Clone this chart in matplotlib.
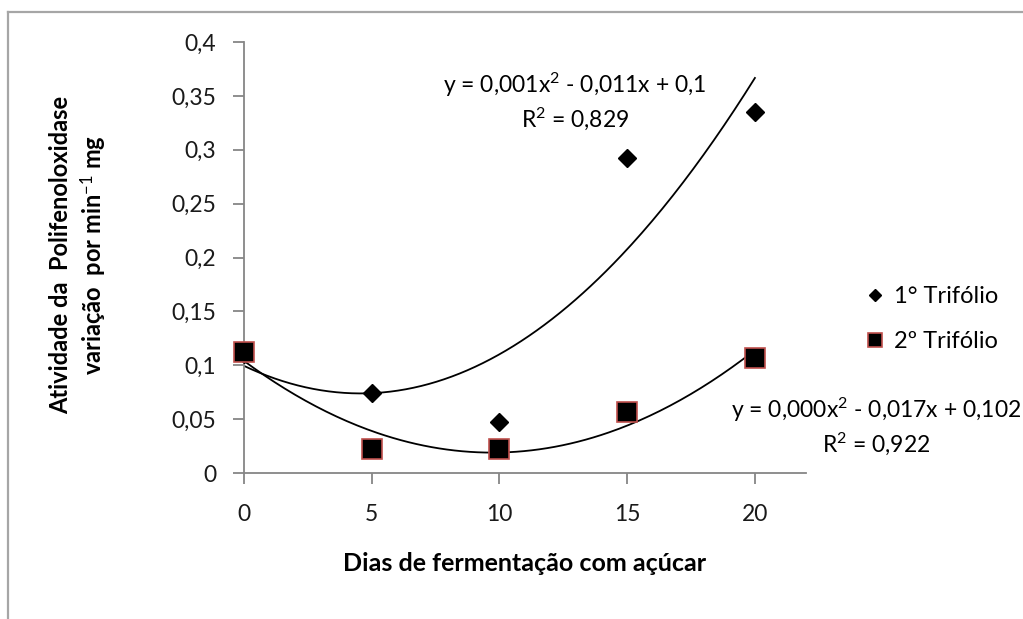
import matplotlib.pyplot as plt
import numpy as np

plt.rcParams['font.family'] = ['Lato', 'DejaVu Sans']
plt.rcParams['mathtext.fontset'] = 'custom'
plt.rcParams['mathtext.rm'] = 'Lato'
plt.rcParams['mathtext.it'] = 'Lato:italic'
plt.rcParams['mathtext.bf'] = 'Lato:bold'

dias = [0, 5, 10, 15, 20]
trifolio_1 = [0.110, 0.074, 0.047, 0.292, 0.335]
trifolio_2 = [0.112, 0.022, 0.022, 0.057, 0.107]

eq_1 = "y = 0,001x$^2$ - 0,011x + 0,1\nR$^2$ = 0,829"
eq_2 = "y = 0,000x$^2$ - 0,017x + 0,102\nR$^2$ = 0,922"

y_ticks = [0, 0.05, 0.1, 0.15, 0.2, 0.25, 0.3, 0.35, 0.4]
y_tick_labels = ["0", "0,05", "0,1", "0,15", "0,2", "0,25", "0,3", "0,35", "0,4"]
x_ticks = [0, 5, 10, 15, 20]

W, H = 1023, 619
fs = 16.5
fig = plt.figure(figsize=(W / 100, H / 100), dpi=100)

# chart border (only left and top edges are in view)
fig.add_artist(plt.Line2D([8 / W, 8 / W], [0, 1 - 12 / H], color="#a6a6a6", lw=1.6))
fig.add_artist(plt.Line2D([8 / W, 1], [1 - 12 / H, 1 - 12 / H], color="#a6a6a6", lw=1.6))

ax = fig.add_axes([244 / W, (H - 473) / H, (806 - 244) / W, (473 - 42) / H])
ax.set_xlim(0, 22)
ax.set_ylim(0, 0.4)

axis_gray = "#868686"
for side in ["top", "right"]:
    ax.spines[side].set_visible(False)
for side in ["left", "bottom"]:
    ax.spines[side].set_color(axis_gray)
    ax.spines[side].set_linewidth(1.3)

ax.set_yticks(y_ticks)
ax.set_yticklabels(y_tick_labels)
ax.set_xticks(x_ticks)
ax.tick_params(axis="both", direction="out", length=8, width=1.3, color=axis_gray,
               labelsize=fs, labelcolor="#1a1a1a")
ax.tick_params(axis="y", pad=12)
ax.tick_params(axis="x", pad=14)

# quadratic trendlines
xs = np.linspace(0, 20, 200)
for vals in [trifolio_1, trifolio_2]:
    coef = np.polyfit(dias, vals, 2)
    ax.plot(xs, np.polyval(coef, xs), color="black", lw=1.3, zorder=2)

ax.plot(dias, trifolio_1, linestyle="none", marker="D", markersize=9,
        color="black", label="1° Trifólio", zorder=3, clip_on=False)
ax.plot(dias, trifolio_2, linestyle="none", marker="s", markersize=14,
        markerfacecolor="black", markeredgecolor="#c0504d", markeredgewidth=1.2,
        label="2º Trifólio", zorder=4, clip_on=False)

fig.text(575 / W, 1 - 101 / H, eq_1, ha="center", va="center", fontsize=fs,
         linespacing=1.3)
fig.text(1021 / W, 1 - 426 / H, eq_2, ha="right", va="center", fontsize=fs,
         linespacing=1.3, multialignment="center")

leg = ax.legend(loc="center left", bbox_to_anchor=(840 / W, 1 - 319 / H),
                bbox_transform=fig.transFigure, frameon=False, fontsize=fs + 0.5,
                handletextpad=0.2, labelspacing=1.0, handlelength=1.2, markerscale=0.7)

ax.set_xlabel("Dias de fermentação com açúcar", fontsize=18, fontweight="bold",
              labelpad=20)
fig.text(79 / W, 1 - 255 / H,
         "Atividade da  Polifenoloxidase\nvariação  por min$^{-1}$ mg",
         rotation=90, ha="center", va="center", fontsize=17, fontweight="bold",
         linespacing=1.3)

fig.savefig("out.png", dpi=100)
